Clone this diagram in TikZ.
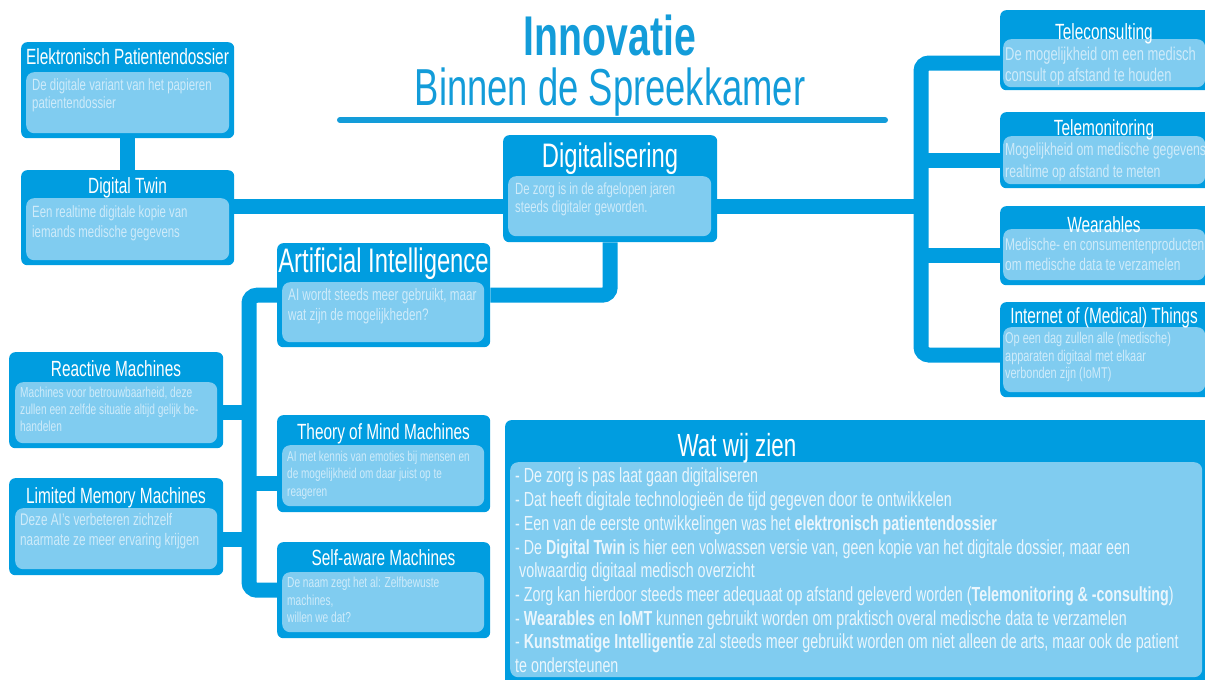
\documentclass[tikz,border=0pt]{standalone}
\usepackage{fontspec}
\setmainfont[FakeStretch=0.7]{Liberation Sans}
\usetikzlibrary{backgrounds}
\definecolor{boxblue}{RGB}{0,157,224}
\definecolor{paneblue}{RGB}{128,204,240}
\definecolor{paletext}{RGB}{206,235,250}
\definecolor{seentext}{RGB}{234,246,253}
\definecolor{titleblue}{RGB}{19,156,217}

\begin{document}
\begin{tikzpicture}[x=1pt,y=-1pt,
  outer/.style={fill=boxblue,rounded corners=6pt,inner sep=0pt,anchor=north west},
  pane/.style={fill=paneblue,rounded corners=8pt,inner sep=0pt,anchor=north west},
  head/.style={text=white,anchor=base,inner sep=0pt,font=\fontsize{22}{24}\selectfont},
  bighead/.style={head,font=\fontsize{34}{36}\selectfont},
  body/.style={text=paletext,align=left,anchor=north west,inner sep=0pt},
  link/.style={draw=boxblue,line width=15pt}]
  \useasboundingbox (0,0) rectangle (1205,680);
  \clip (0,0) rectangle (1205,680);

  \node[anchor=base,inner sep=0pt,text=titleblue,font=\fontsize{56}{60}\selectfont\bfseries] (inno) at (610,55) {Innovatie};
  \node[anchor=base,inner sep=0pt,text=titleblue,font=\fontsize{52}{56}\selectfont] (binnen) at (610,105) {Binnen de Spreekkamer};
  \draw[titleblue,line width=6pt,line cap=round] (340,120) -- (885,120);

  \node[outer,minimum width=213pt,minimum height=96pt] (epd) at (21,42) {};
  \node[pane,minimum width=203pt,minimum height=61pt] (epdpane) at (26,72) {};
  \node[head] (epdhead) at (127.5,64) {Elektronisch Patientendossier};
  \node[body,font=\fontsize{16.3}{18.5}\selectfont] (epdtext) at (32,78) {De digitale variant van het papieren\\patientendossier};

  \node[outer,minimum width=213pt,minimum height=95pt] (twin) at (21,170) {};
  \node[pane,minimum width=203pt,minimum height=62pt] (twinpane) at (26,198) {};
  \node[head] (twinhead) at (127.5,193) {Digital Twin};
  \node[body,font=\fontsize{16.3}{20}\selectfont] (twintext) at (32,205) {Een realtime digitale kopie van\\iemands medische gegevens};

  \node[outer,minimum width=214pt,minimum height=107pt] (dig) at (503,135) {};
  \node[pane,minimum width=203pt,minimum height=60pt] (digpane) at (508,176) {};
  \node[bighead] (dighead) at (610,167) {Digitalisering};
  \node[body,font=\fontsize{16.2}{17.5}\selectfont] (digtext) at (515,183) {De zorg is in de afgelopen jaren\\steeds digitaler geworden.};

  \node[outer,minimum width=213pt,minimum height=104pt] (ai) at (277,243) {};
  \node[pane,minimum width=202pt,minimum height=60pt] (aipane) at (282,282) {};
  \node[bighead] (aihead) at (383.5,272) {Artificial Intelligence};
  \node[body,font=\fontsize{16.7}{20}\selectfont] (aitext) at (288,288) {AI wordt steeds meer gebruikt, maar\\wat zijn de mogelijkheden?};

  \node[outer,minimum width=214pt,minimum height=96pt] (react) at (9,352) {};
  \node[pane,minimum width=202pt,minimum height=61pt] (reactpane) at (15,382) {};
  \node[head] (reacthead) at (116,376) {Reactive Machines};
  \node[body,font=\fontsize{14.5}{17}\selectfont] (reacttext) at (20,387) {Machines voor betrouwbaarheid, deze\\zullen een zelfde situatie altijd gelijk be-\\handelen};

  \node[outer,minimum width=214pt,minimum height=97pt] (limit) at (9,478) {};
  \node[pane,minimum width=202pt,minimum height=61pt] (limitpane) at (15,508) {};
  \node[head] (limithead) at (116,503) {Limited Memory Machines};
  \node[body,font=\fontsize{16.8}{20}\selectfont] (limittext) at (20,513) {Deze AI's verbeteren zichzelf\\naarmate ze meer ervaring krijgen};

  \node[outer,minimum width=213pt,minimum height=97pt] (mind) at (277,415) {};
  \node[pane,minimum width=202pt,minimum height=61pt] (mindpane) at (282,445) {};
  \node[head] (mindhead) at (383.5,439) {Theory of Mind Machines};
  \node[body,font=\fontsize{14.3}{17.3}\selectfont] (mindtext) at (287,451) {AI met kennis van emoties bij mensen en\\de mogelijkheid om daar juist op te\\reageren};

  \node[outer,minimum width=213pt,minimum height=96pt] (self) at (277,542) {};
  \node[pane,minimum width=202pt,minimum height=60pt] (selfpane) at (282,572) {};
  \node[head] (selfhead) at (383.5,565) {Self-aware Machines};
  \node[body,font=\fontsize{14.5}{17.3}\selectfont] (selftext) at (287,577) {De naam zegt het al: Zelfbewuste\\machines,\\willen we dat?};

  \node[outer,minimum width=214pt,minimum height=80pt] (tele) at (1000,10) {};
  \node[pane,minimum width=202pt,minimum height=48pt] (telepane) at (1003,39) {};
  \node[head] (telehead) at (1104,39) {Teleconsulting};
  \node[body,font=\fontsize{18.5}{21}\selectfont] (teletext) at (1005,47) {De mogelijkheid om een medisch\\consult op afstand te houden};

  \node[outer,minimum width=214pt,minimum height=76pt] (monitor) at (1000,112) {};
  \node[pane,minimum width=202pt,minimum height=48pt] (monitorpane) at (1003,136) {};
  \node[head] (monitorhead) at (1104,135) {Telemonitoring};
  \node[body,font=\fontsize{17.5}{22}\selectfont] (monitortext) at (1005,143) {Mogelijkheid om medische gegevens\\realtime op afstand te meten};

  \node[outer,minimum width=214pt,minimum height=79pt] (wear) at (1000,206) {};
  \node[pane,minimum width=202pt,minimum height=51pt] (wearpane) at (1003,229) {};
  \node[head] (wearhead) at (1104,232) {Wearables};
  \node[body,font=\fontsize{17}{20}\selectfont] (weartext) at (1005,238) {Medische- en consumentenproducten\\om medische data te verzamelen};

  \node[outer,minimum width=214pt,minimum height=95pt] (iomt) at (1000,302) {};
  \node[pane,minimum width=202pt,minimum height=65pt] (iomtpane) at (1003,327) {};
  \node[head] (iomthead) at (1104,323) {Internet of (Medical) Things};
  \node[body,font=\fontsize{15.6}{17.5}\selectfont] (iomttext) at (1005,332) {Op een dag zullen alle (medische)\\apparaten digitaal met elkaar\\verbonden zijn (IoMT)};

  \node[outer,minimum width=709pt,minimum height=270pt] (seen) at (505,420) {};
  \node[pane,minimum width=692pt,minimum height=215pt] (seenpane) at (510,462) {};
  \node[head,font=\fontsize{32}{34}\selectfont] (seenhead) at (737,456) {Wat wij zien};
  \node[body,text=seentext,font=\fontsize{20.4}{23.7}\selectfont] (seenlist) at (515,468) {- De zorg is pas laat gaan digitaliseren\\
    - Dat heeft digitale technologieën de tijd gegeven door te ontwikkelen\\
    - Een van de eerste ontwikkelingen was het \textbf{elektronisch patientendossier}\\
    - De \textbf{Digital Twin} is hier een volwassen versie van, geen kopie van het digitale dossier, maar een\\
    \ volwaardig digitaal medisch overzicht\\
    - Zorg kan hierdoor steeds meer adequaat op afstand geleverd worden (\textbf{Telemonitoring \& -consulting})\\
    - \textbf{Wearables} en \textbf{IoMT} kunnen gebruikt worden om praktisch overal medische data te verzamelen\\
    - \textbf{Kunstmatige Intelligentie} zal steeds meer gebruikt worden om niet alleen de arts, maar ook de patient\\
    te ondersteunen};

  \coordinate (rtrunk) at (921,206);
  \coordinate (telebr) at (921,63);
  \coordinate (monbr) at (921,160);
  \coordinate (wearbr) at (921,255);
  \coordinate (iomtbr) at (921,355);
  \coordinate (atrunk) at (249,450);
  \coordinate (reactbr) at (249,412);
  \coordinate (limitbr) at (249,539);
  \coordinate (mindbr) at (249,483);

  \begin{scope}[on background layer]
    \draw[link] (epd) -- (twin);
    \draw[link] (twin |- rtrunk) -- (rtrunk);
    \draw[link,rounded corners=8pt] (tele |- telebr) -| (rtrunk) |- (iomt |- iomtbr);
    \draw[link] (monbr) -- (monitor |- monbr);
    \draw[link] (wearbr) -- (wear |- wearbr);
    \draw[link,rounded corners=8pt] (dig) |- (ai);
    \draw[link,rounded corners=8pt] (ai) -| (atrunk) |- (self);
    \draw[link] (reactbr) -- (react |- reactbr);
    \draw[link] (limitbr) -- (limit |- limitbr);
    \draw[link] (mindbr) -- (mind |- mindbr);
  \end{scope}
\end{tikzpicture}
\end{document}
